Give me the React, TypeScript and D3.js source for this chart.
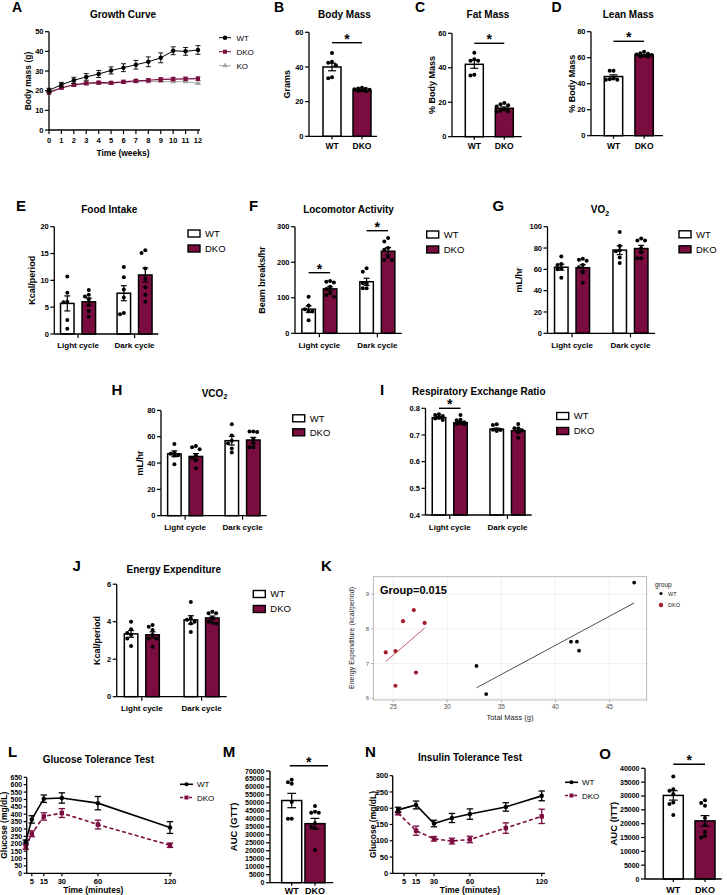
import React from "react";
import * as d3 from "d3";

const FONT = "'Liberation Sans', Arial, Helvetica, sans-serif";
const MAROON = "#7b0c3f";
const KO_GREY = "#a8a8a8";

// ---------------- DATA ----------------
const weeks = [0, 1, 2, 3, 4, 5, 6, 7, 8, 9, 10, 11, 12];
const growthWT = [20.2, 23.0, 25.3, 27.0, 28.5, 30.3, 31.7, 33.2, 34.7, 36.7, 40.3, 40.0, 40.7];
const growthWTErr = [1.0, 1.2, 1.5, 1.7, 1.8, 1.8, 2.0, 2.2, 2.5, 2.5, 2.0, 2.0, 2.2];
const growthDKO = [19.0, 21.5, 23.0, 23.8, 24.1, 24.0, 24.5, 25.0, 25.3, 25.7, 25.9, 26.0, 26.1];
const growthDKOErr = [0.6, 0.6, 0.7, 0.7, 0.7, 0.7, 0.8, 0.8, 0.8, 0.9, 0.9, 0.9, 0.9];
const growthKO = [19.5, 21.3, 22.7, 23.5, 23.8, 23.8, 24.2, 24.6, 24.6, 24.7, 24.6, 24.6, 23.7];
const growthKOErr = [0.5, 0.5, 0.5, 0.5, 0.5, 0.5, 0.5, 0.5, 0.5, 0.5, 0.5, 0.5, 0.5];

const genotypes = ["WT", "DKO"];
const cycles = ["Light cycle", "Dark cycle"];

const bodyMassMean = [40.0, 26.3];
const bodyMassSem = [2.2, 0.4];
const bodyMassWT = [48, 43, 42.5, 41, 34, 33.5];
const bodyMassDKO = [27.5, 28, 27.6, 27.2, 26.8, 26.3, 26.0, 26.5];

const fatMassMean = [42.0, 16.5];
const fatMassSem = [2.3, 0.8];
const fatMassWT = [48.7, 45, 44, 44, 36, 35.5];
const fatMassDKO = [19.5, 18.8, 18.2, 17.5, 15.8, 15, 14.6, 14.8];

const leanMassMean = [45.5, 62.0];
const leanMassSem = [1.3, 0.5];
const leanMassWT = [50, 50, 44, 43, 43, 43.5];
const leanMassDKO = [64.6, 63.5, 63, 62.5, 62, 61.5, 61, 60.8];

const foodMeanWT = [5.7, 7.6];
const foodSemWT = [1.4, 1.4];
const foodMeanDKO = [6.0, 11.0];
const foodSemDKO = [0.7, 1.3];
const foodDotsWT = [[10.7, 7.7, 6.0, 5.9, 2.6, 1.0], [12.5, 10.6, 8.3, 6.8, 3.7, 3.9]];
const foodDotsDKO = [[8.2, 7.3, 7.0, 6.5, 5.4, 4.3, 3.2], [15.6, 15.1, 12.2, 10.3, 8.7, 7.3, 6.0]];

const locoMeanWT = [68, 145];
const locoSemWT = [9, 10];
const locoMeanDKO = [125, 231];
const locoSemDKO = [6, 10];
const locoDotsWT = [[103, 78, 68, 61, 61, 37], [183, 173, 141, 127, 127, 141]];
const locoDotsDKO = [[147, 145, 143, 131, 125, 113, 103, 108], [268, 258, 240, 235, 215, 206, 206]];

const vo2MeanWT = [62, 78];
const vo2SemWT = [2.8, 4.2];
const vo2MeanDKO = [61.5, 79.5];
const vo2SemDKO = [3.0, 3.0];
const vo2DotsWT = [[72, 65, 64, 61, 60, 52], [95, 82, 78, 77, 71, 66]];
const vo2DotsDKO = [[70, 69, 68, 64, 62, 57, 47.5], [89, 87, 87, 80, 76, 70.5, 70.5]];

const vco2MeanWT = [47, 57];
const vco2SemWT = [2.2, 3.3];
const vco2MeanDKO = [45, 57.5];
const vco2SemDKO = [2.2, 2.0];
const vco2DotsWT = [[54.5, 48, 47, 46, 46, 39], [69.5, 61, 57, 55, 51, 48]];
const vco2DotsDKO = [[53, 52, 50.5, 46, 44, 42, 36], [64, 63.5, 64, 58, 55, 52, 52]];

const rerMeanWT = [0.765, 0.722];
const rerSemWT = [0.004, 0.004];
const rerMeanDKO = [0.746, 0.716];
const rerSemDKO = [0.004, 0.007];
const rerDotsWT = [[0.778, 0.775, 0.771, 0.765, 0.762, 0.756], [0.74, 0.737, 0.72, 0.719, 0.715, 0.72]];
const rerDotsDKO = [[0.775, 0.757, 0.755, 0.748, 0.744, 0.742, 0.74], [0.741, 0.725, 0.725, 0.718, 0.71, 0.69]];

const eeMeanWT = [3.35, 4.1];
const eeSemWT = [0.18, 0.22];
const eeMeanDKO = [3.3, 4.2];
const eeSemDKO = [0.16, 0.1];
const eeDotsWT = [[4.0, 3.6, 3.4, 3.3, 3.1, 2.7], [5.05, 4.2, 4.1, 4.0, 3.9, 3.45]];
const eeDotsDKO = [[3.82, 3.73, 3.56, 3.3, 3.11, 3.1, 2.67], [4.53, 4.45, 4.45, 4.2, 4.0, 3.95, 3.9]];

const kWTMass = [47.3, 32.7, 33.6, 41.45, 42.0, 42.2];
const kWTEE = [9.33, 6.93, 6.12, 7.63, 7.63, 7.37];
const kDKOMass = [26.9, 25.9, 27.9, 24.3, 25.2, 27.1, 25.2];
const kDKOEE = [8.54, 8.22, 8.17, 7.32, 7.36, 6.74, 6.36];
const kXTicks = [25, 30, 35, 40, 45];
const kYTicks = [6, 7, 8, 9];

const gttTimes = [0, 5, 15, 30, 60, 120];
const gttWT = [215, 365, 505, 510, 475, 310];
const gttWTErr = [10, 25, 25, 35, 45, 40];
const gttDKO = [178, 268, 385, 408, 330, 190];
const gttDKOErr = [15, 20, 25, 30, 30, 15];
const gttXTicks = [5, 15, 30, 60, 120];

const gttAucMean = [51500, 37000];
const gttAucSem = [4500, 3300];
const gttAucWT = [64500, 63000, 62000, 50500, 40000, 40000];
const gttAucDKO = [48000, 44500, 43900, 43800, 37200, 35100, 34100, 20500];

const ittTimes = [0, 15, 30, 45, 60, 90, 120];
const ittWT = [195, 210, 153, 170, 182, 204, 238];
const ittWTErr = [8, 12, 10, 14, 16, 13, 15];
const ittDKO = [185, 131, 106, 99, 104, 139, 175];
const ittDKOErr = [5, 14, 7, 9, 10, 16, 22];
const ittXTicks = [5, 15, 30, 60, 120];

const ittAucMean = [30200, 21000];
const ittAucSem = [1700, 1900];
const ittAucWT = [37000, 31900, 32400, 30700, 27100, 27600, 23100];
const ittAucDKO = [28500, 27500, 26500, 22000, 19500, 17000, 15500, 15000];

// ---------------- HELPERS ----------------
function swarm(vals: number[], y: (v: number) => number, r: number, maxOff: number) {
  const order = vals.map((_, i) => i).sort((a, b) => vals[b] - vals[a]);
  const res = new Array(vals.length).fill(0);
  const placed: { x: number; y: number }[] = [];
  const step = r * 1.9;
  for (const i of order) {
    const yy = y(vals[i]);
    const cands = [0];
    for (let j = 1; j < 8; j++) cands.push(-j * step, j * step);
    let chosen = 0;
    let best = -1;
    for (const c of cands) {
      if (Math.abs(c) > maxOff) continue;
      const md = placed.length ? Math.min(...placed.map((p) => Math.hypot(p.x - c, p.y - yy))) : 99;
      if (md >= 2 * r * 0.95) { chosen = c; best = 1e9; break; }
      if (md > best) { best = md; chosen = c; }
    }
    res[i] = chosen;
    placed.push({ x: chosen, y: yy });
  }
  return res;
}

function Letter({ x, y, t, size = 15 }: any) {
  return <text x={x} y={y} fontSize={size} fontWeight="bold">{t}</text>;
}
function Title({ x, y, children, size = 10 }: any) {
  return <text x={x} y={y} fontSize={size} fontWeight="bold" textAnchor="middle">{children}</text>;
}
function YLabel({ x, y, t, size = 9 }: any) {
  const xx = x + size * 0.35;
  return <text x={xx} y={y} fontSize={size} fontWeight="bold" textAnchor="middle" transform={`rotate(-90 ${xx} ${y})`}>{t}</text>;
}

function YAxis({ x, scale, ticks, fmt = (d: number) => String(d), size = 7.5, len = 4 }: any) {
  const [r0, r1] = scale.range();
  return (
    <g>
      <line x1={x} x2={x} y1={r0} y2={r1} stroke="#000" strokeWidth={1.3} />
      {ticks.map((t: number) => (
        <g key={t}>
          <line x1={x - len} x2={x} y1={scale(t)} y2={scale(t)} stroke="#000" strokeWidth={1.2} />
          <text x={x - len - 1.5} y={scale(t)} dy="0.36em" textAnchor="end" fontSize={size} fontWeight="bold">{fmt(t)}</text>
        </g>
      ))}
    </g>
  );
}

function ErrBar({ x, y1, y2, cap = 3.5, color = "#000", w = 1.2 }: any) {
  return (
    <g stroke={color} strokeWidth={w}>
      <line x1={x} x2={x} y1={y1} y2={y2} />
      <line x1={x - cap} x2={x + cap} y1={y1} y2={y1} />
      <line x1={x - cap} x2={x + cap} y1={y2} y2={y2} />
    </g>
  );
}

function Bar({ xc, w, y, mean, sem, dots, fill, r = 2 }: any) {
  const yb = y(y.domain()[0]);
  const ym = y(mean);
  const offs = swarm(dots, y, r, w / 2 - 1);
  return (
    <g>
      <rect x={xc - w / 2} y={ym} width={w} height={yb - ym} fill={fill} stroke="#000" strokeWidth={1.5} />
      <ErrBar x={xc} y1={y(mean + sem)} y2={y(mean - sem)} cap={w * 0.22} />
      {dots.map((v: number, i: number) => (
        <circle key={i} cx={xc + offs[i]} cy={y(v)} r={r} fill="#000" />
      ))}
    </g>
  );
}

function Star({ x, y }: any) {
  return <text x={x} y={y + 1} fontSize={14} fontWeight="bold" textAnchor="middle">*</text>;
}

function BarLegend({ x, y, gap = 15 }: any) {
  return (
    <g>
      {genotypes.map((g, i) => (
        <g key={g}>
          <rect x={x} y={y + i * gap - 3.5} width={12} height={7} fill={i === 0 ? "#fff" : MAROON} stroke="#000" strokeWidth={1.4} />
          <text x={x + 17} y={y + i * gap + 3.4} fontSize={9.5}>{g}</text>
        </g>
      ))}
    </g>
  );
}

// ---------- Two-bar panel (B, C, D, M, O) ----------
function TwoBarPanel(p: any) {
  const y = d3.scaleLinear().domain(p.domain).range(p.yRange);
  const x = d3.scaleBand<string>().domain(genotypes).range(p.band).paddingInner(p.pi ?? 0.4).paddingOuter(0);
  const w = x.bandwidth();
  const cx = (g: string) => (x(g) as number) + w / 2;
  const yb = p.yRange[0];
  return (
    <g>
      <Letter x={p.letter[0]} y={p.letter[1]} t={p.letterT} size={p.letterSize ?? 14} />
      {p.title && <Title x={p.title[0]} y={p.title[1]}>{p.titleT}</Title>}
      <YLabel x={p.yLabel[0]} y={(p.yRange[0] + p.yRange[1]) / 2} t={p.yLabelT} size={p.yLabelSize ?? 9} />
      {genotypes.map((g, i) => (
        <Bar key={g} xc={cx(g)} w={w} y={y} mean={p.means[i]} sem={p.sems[i]} dots={p.dots[i]} fill={i === 0 ? "#fff" : MAROON} r={p.r ?? 2} />
      ))}
      <YAxis x={p.axisX} scale={y} ticks={p.ticks} size={p.tickSize ?? 7.5} />
      <line x1={p.axisX} x2={p.axisEnd} y1={yb} y2={yb} stroke="#000" strokeWidth={1.3} />
      {genotypes.map((g) => (
        <g key={g}>
          <line x1={cx(g)} x2={cx(g)} y1={yb} y2={yb + 3} stroke="#000" strokeWidth={1.2} />
          <text x={cx(g)} y={p.catY} textAnchor="middle" fontSize={p.catSize ?? 8.5} fontWeight="bold">{g}</text>
        </g>
      ))}
      <line x1={cx("WT") + (p.sigPad?.[0] ?? 0)} x2={cx("DKO") + (p.sigPad?.[1] ?? 0)} y1={p.sigY} y2={p.sigY} stroke="#000" strokeWidth={1.4} />
      <Star x={(cx("WT") + (p.sigPad?.[0] ?? 0) + cx("DKO") + (p.sigPad?.[1] ?? 0)) / 2} y={p.sigY} />
    </g>
  );
}

// ---------- Cycle panel (E-J) ----------
function CyclePanel(p: any) {
  const y = d3.scaleLinear().domain(p.domain).range(p.yRange);
  const xg = d3.scalePoint<string>().domain(cycles).range([p.x0, p.x1]).padding(0.42);
  const xs = d3.scaleBand<string>().domain(genotypes).range([-17.5, 17.5]).paddingInner(0.372);
  const w = xs.bandwidth();
  const bx = (c: string, g: string) => (xg(c) as number) + (xs(g) as number) + w / 2;
  const yb = p.yRange[0];
  return (
    <g>
      <Letter x={p.letter[0]} y={p.letter[1]} t={p.letterT} size={15} />
      <Title x={p.title[0]} y={p.title[1]}>{p.titleT}</Title>
      {p.yLabelT && <YLabel x={p.yLabelX} y={(p.yRange[0] + p.yRange[1]) / 2} t={p.yLabelT} />}
      {cycles.map((c, ci) => (
        <g key={c}>
          <Bar xc={bx(c, "WT")} w={w} y={y} mean={p.meanWT[ci]} sem={p.semWT[ci]} dots={p.dotsWT[ci]} fill="#fff" />
          <Bar xc={bx(c, "DKO")} w={w} y={y} mean={p.meanDKO[ci]} sem={p.semDKO[ci]} dots={p.dotsDKO[ci]} fill={MAROON} />
        </g>
      ))}
      <YAxis x={p.x0} scale={y} ticks={p.ticks} fmt={p.fmt} />
      <line x1={p.x0} x2={p.x1} y1={yb} y2={yb} stroke="#000" strokeWidth={1.3} />
      {cycles.map((c) => (
        <g key={c}>
          <line x1={xg(c)} x2={xg(c)} y1={yb} y2={yb + 4} stroke="#000" strokeWidth={1.2} />
          <text x={xg(c)} y={p.catY} textAnchor="middle" fontSize={8} fontWeight="bold">{c}</text>
        </g>
      ))}
      {cycles.map((c, ci) =>
        p.sigY && p.sigY[ci] != null ? (
          <g key={"s" + c}>
            <line x1={bx(c, "WT")} x2={bx(c, "DKO")} y1={p.sigY[ci]} y2={p.sigY[ci]} stroke="#000" strokeWidth={1.4} />
            <Star x={(bx(c, "WT") + bx(c, "DKO")) / 2} y={p.sigY[ci]} />
          </g>
        ) : null
      )}
      <BarLegend x={p.legend[0]} y={p.legend[1]} gap={p.legendGap ?? 15} />
    </g>
  );
}

function symbolPath(shape: string, size: number) {
  const t = shape === "square" ? d3.symbolSquare : shape === "triangle" ? d3.symbolTriangle : shape === "diamond" ? d3.symbolDiamond : d3.symbolCircle;
  return d3.symbol().type(t).size(size)() as string;
}

// ---------- Panel A ----------
function GrowthPanel() {
  const x = d3.scaleLinear().domain([0, 12]).range([49, 198]);
  const y = d3.scaleLinear().domain([0, 50]).range([130, 31.7]);
  const series = [
    { name: "KO", vals: growthKO, err: growthKOErr, color: KO_GREY, shape: "triangle", size: 14, lw: 1 },
    { name: "DKO", vals: growthDKO, err: growthDKOErr, color: MAROON, shape: "square", size: 16, lw: 1.2 },
    { name: "WT", vals: growthWT, err: growthWTErr, color: "#000", shape: "circle", size: 16, lw: 1 },
  ];
  const legendOrder = ["WT", "DKO", "KO"];
  const line = d3.line<number>().x((_, i) => x(weeks[i])).y((v) => y(v));
  return (
    <g>
      <Letter x={12} y={12} t="A" size={14} />
      <Title x={123} y={18}>Growth Curve</Title>
      <YLabel x={28} y={81} t="Body mass (g)" size={8.5} />
      {series.map((s) => (
        <g key={s.name}>
          <path d={line(s.vals) as string} fill="none" stroke={s.color} strokeWidth={s.lw} />
          {s.vals.map((v, i) => (
            <ErrBar key={i} x={x(weeks[i])} y1={y(v + s.err[i])} y2={y(v - s.err[i])} cap={2.5} color={s.color} w={0.9} />
          ))}
          {s.vals.map((v, i) => (
            <path key={"m" + i} d={symbolPath(s.shape, s.size)} transform={`translate(${x(weeks[i])},${y(v)})`} fill={s.color} />
          ))}
        </g>
      ))}
      <YAxis x={49} scale={y} ticks={[0, 10, 20, 30, 40, 50]} size={7.5} />
      <line x1={49} x2={200} y1={130} y2={130} stroke="#000" strokeWidth={1.3} />
      {weeks.map((w) => (
        <g key={w}>
          <line x1={x(w)} x2={x(w)} y1={130} y2={134} stroke="#000" strokeWidth={1.2} />
          <text x={x(w)} y={143} textAnchor="middle" fontSize={7.5} fontWeight="bold">{w}</text>
        </g>
      ))}
      <text x={123} y={155.5} textAnchor="middle" fontSize={8.5} fontWeight="bold">Time (weeks)</text>
      {legendOrder.map((n, i) => {
        const s = series.find((d) => d.name === n)!;
        const ly = 37.7 + i * 14;
        return (
          <g key={n}>
            <line x1={219} x2={231} y1={ly} y2={ly} stroke={s.color} strokeWidth={1} />
            <path d={symbolPath(s.shape, s.size)} transform={`translate(225,${ly})`} fill={s.color} />
            <text x={236.5} y={ly + 3} fontSize={8}>{n}</text>
          </g>
        );
      })}
    </g>
  );
}

// ---------- Tolerance panels (L, N) ----------
function TolerancePanel(p: any) {
  const x = d3.scaleLinear().domain(p.xDomain).range(p.xRange);
  const y = d3.scaleLinear().domain(p.yDomain).range(p.yRange);
  const yb = p.yRange[0];
  const lineWT = d3.line<number>().x((_, i) => x(p.times[i])).y((v) => y(v));
  const series = [
    { name: "DKO", vals: p.dko, err: p.dkoErr, color: MAROON, dash: "4,2.5", shape: "square", size: 20 },
    { name: "WT", vals: p.wt, err: p.wtErr, color: "#000", dash: undefined, shape: "circle", size: 16 },
  ];
  return (
    <g>
      <Letter x={p.letter[0]} y={p.letter[1]} t={p.letterT} size={15} />
      <Title x={p.title[0]} y={p.title[1]}>{p.titleT}</Title>
      <YLabel x={p.yLabelX} y={(p.yRange[0] + p.yRange[1]) / 2} t="Glucose (mg/dL)" size={8.5} />
      {series.map((s) => (
        <g key={s.name}>
          <path d={lineWT(s.vals) as string} fill="none" stroke={s.color} strokeWidth={1.6} strokeDasharray={s.dash} />
          {s.vals.map((v: number, i: number) => (
            <ErrBar key={i} x={x(p.times[i])} y1={y(v + s.err[i])} y2={y(v - s.err[i])} cap={3.2} color={s.color} w={1.3} />
          ))}
          {s.vals.map((v: number, i: number) => (
            <path key={"m" + i} d={symbolPath(s.shape, s.size)} transform={`translate(${x(p.times[i])},${y(v)})`} fill={s.color} />
          ))}
        </g>
      ))}
      <YAxis x={p.axisX} scale={y} ticks={p.yTicks} size={p.tickSize ?? 7.5} len={3} />
      <line x1={p.axisX} x2={p.axisEnd} y1={yb} y2={yb} stroke="#000" strokeWidth={1.3} />
      {p.xTicks.map((t: number) => (
        <g key={t}>
          <line x1={x(t)} x2={x(t)} y1={yb} y2={yb + 3} stroke="#000" strokeWidth={1.2} />
          <text x={x(t)} y={yb + 11} textAnchor="middle" fontSize={7.5} fontWeight="bold">{t}</text>
        </g>
      ))}
      <text x={p.xLabelX} y={yb + 19.5} textAnchor="middle" fontSize={8.5} fontWeight="bold">Time (minutes)</text>
      {[series[1], series[0]].map((s, i) => {
        const ly = p.legend[1] + i * 13.2;
        return (
          <g key={s.name}>
            <line x1={p.legend[0]} x2={p.legend[0] + 13} y1={ly} y2={ly} stroke={s.color} strokeWidth={1.6} strokeDasharray={s.dash ? "3,1.5" : undefined} />
            <path d={symbolPath(s.shape, s.size * 0.8)} transform={`translate(${p.legend[0] + 6.5},${ly})`} fill={s.color} />
            <text x={p.legend[0] + 17} y={ly + 3} fontSize={8}>{s.name}</text>
          </g>
        );
      })}
    </g>
  );
}

function linFit(xs: number[], ys: number[]) {
  const mx = d3.mean(xs) as number;
  const my = d3.mean(ys) as number;
  const sxy = d3.sum(xs, (v, i) => (v - mx) * (ys[i] - my));
  const sxx = d3.sum(xs, (v) => (v - mx) * (v - mx));
  const b = sxy / sxx;
  return (v: number) => my + b * (v - mx);
}

// ---------- Panel K ----------
function ScatterPanel() {
  const x = d3.scaleLinear().domain([23.15, 48.46]).range([373.3, 646.7]);
  const y = d3.scaleLinear().domain([5.95, 9.5]).range([700, 576.7]);
  const fWT = linFit(kWTMass, kWTEE);
  const fDKO = linFit(kDKOMass, kDKOEE);
  const wtExt = d3.extent(kWTMass) as [number, number];
  const dkoExt = d3.extent(kDKOMass) as [number, number];
  const RED = "#a51c30";
  return (
    <g>
      <Letter x={321} y={571} t="K" size={15} />
      <rect x={373.3} y={576.7} width={273.4} height={123.3} fill="#fff" />
      {kXTicks.map((t) => (
        <line key={t} x1={x(t)} x2={x(t)} y1={576.7} y2={700} stroke="#ebebeb" strokeWidth={0.7} />
      ))}
      {kYTicks.map((t) => (
        <line key={t} x1={373.3} x2={646.7} y1={y(t)} y2={y(t)} stroke="#ebebeb" strokeWidth={0.7} />
      ))}
      <rect x={373.3} y={576.7} width={273.4} height={123.3} fill="none" stroke="#aaa" strokeWidth={0.8} />
      {kXTicks.map((t) => (
        <g key={t}>
          <line x1={x(t)} x2={x(t)} y1={700} y2={702.5} stroke="#888" strokeWidth={0.6} />
          <text x={x(t)} y={708.5} textAnchor="middle" fontSize={6.5} fill="#555">{t}</text>
        </g>
      ))}
      {kYTicks.map((t) => (
        <g key={t}>
          <line x1={370.8} x2={373.3} y1={y(t)} y2={y(t)} stroke="#888" strokeWidth={0.6} />
          <text x={369} y={y(t)} dy="0.35em" textAnchor="end" fontSize={6} fill="#555">{t}</text>
        </g>
      ))}
      <text x={510} y={719.5} textAnchor="middle" fontSize={7.5} fill="#222">Total Mass (g)</text>
      <text x={354} y={638} textAnchor="middle" fontSize={7} fill="#222" transform="rotate(-90 354 638)">Energy Expenditure (kcal/period)</text>
      <line x1={x(wtExt[0])} x2={x(wtExt[1])} y1={y(fWT(wtExt[0]))} y2={y(fWT(wtExt[1]))} stroke="#222" strokeWidth={0.8} />
      <line x1={x(dkoExt[0])} x2={x(dkoExt[1])} y1={y(fDKO(dkoExt[0]))} y2={y(fDKO(dkoExt[1]))} stroke="#b5303f" strokeWidth={0.8} />
      {kWTMass.map((m, i) => (
        <circle key={"w" + i} cx={x(m)} cy={y(kWTEE[i])} r={1.9} fill="#000" />
      ))}
      {kDKOMass.map((m, i) => (
        <circle key={"d" + i} cx={x(m)} cy={y(kDKOEE[i])} r={2.1} fill={RED} />
      ))}
      <text x={380} y={593.5} fontSize={11} fontWeight="bold">Group=0.015</text>
      <text x={655} y={587} fontSize={6.5} fill="#222">group</text>
      <circle cx={661} cy={593.5} r={1.6} fill="#000" />
      <text x={668} y={595.8} fontSize={5.5} fill="#222">WT</text>
      <circle cx={661} cy={605} r={2.2} fill={RED} />
      <text x={668} y={607.3} fontSize={5.5} fill="#222">DKO</text>
    </g>
  );
}

export default function App() {
  const big5k = d3.range(0, 70001, 5000);
  const o5k = d3.range(0, 40001, 5000);
  return (
    <svg width={727} height={895} style={{ position: "absolute", left: 0, top: 0, background: "#fff" }} fontFamily={FONT}>
      <rect width={727} height={895} fill="#fff" />
      <GrowthPanel />
      <TwoBarPanel letterT="B" letter={[274, 12]} titleT="Body Mass" title={[344.5, 17.5]} yLabelT="Grams" yLabel={[287.3]}
        axisX={309} band={[323, 371]} axisEnd={377} domain={[0, 60]} yRange={[136.3, 32.3]} ticks={[0, 20, 40, 60]}
        means={bodyMassMean} sems={bodyMassSem} dots={[bodyMassWT, bodyMassDKO]} sigY={42.7} catY={148.5} />
      <TwoBarPanel letterT="C" letter={[415, 12]} titleT="Fat Mass" title={[488, 17.5]} yLabelT="% Body Mass" yLabel={[431.7]}
        axisX={452} band={[465.3, 513.3]} axisEnd={521.7} domain={[0, 60]} yRange={[136.7, 33.3]} ticks={[0, 20, 40, 60]}
        means={fatMassMean} sems={fatMassSem} dots={[fatMassWT, fatMassDKO]} sigY={43.3} catY={149} />
      <TwoBarPanel letterT="D" letter={[551.5, 12]} titleT="Lean Mass" title={[628.3, 17.5]} yLabelT="% Body Mass" yLabel={[571.7]}
        axisX={591} band={[604.3, 653.3]} axisEnd={663} domain={[0, 80]} yRange={[135.7, 31.7]} ticks={[0, 20, 40, 60, 80]}
        means={leanMassMean} sems={leanMassSem} dots={[leanMassWT, leanMassDKO]} sigY={41.3} catY={148.5} />

      <CyclePanel letterT="E" letter={[16, 211]} titleT="Food Intake" title={[109.3, 213.3]} yLabelT="Kcal/period" yLabelX={32.3}
        x0={54.3} x1={158.3} domain={[0, 20]} yRange={[334, 226.7]} ticks={[0, 5, 10, 15, 20]}
        meanWT={foodMeanWT} semWT={foodSemWT} meanDKO={foodMeanDKO} semDKO={foodSemDKO} dotsWT={foodDotsWT} dotsDKO={foodDotsDKO}
        catY={348} legend={[188, 233.5]} />
      <CyclePanel letterT="F" letter={[249, 211]} titleT="Locomotor Activity" title={[348.5, 213.3]} yLabelT="Beam breaks/hr" yLabelX={261.7}
        x0={295} x1={401.7} domain={[0, 300]} yRange={[333.3, 226.7]} ticks={[0, 100, 200, 300]}
        meanWT={locoMeanWT} semWT={locoSemWT} meanDKO={locoMeanDKO} semDKO={locoSemDKO} dotsWT={locoDotsWT} dotsDKO={locoDotsDKO}
        catY={348} legend={[426.7, 234.5]} sigY={[272.7, 230.7]} />
      <CyclePanel letterT="G" letter={[492.5, 211]} titleT={<tspan>VO<tspan dy={2.5} fontSize={7}>2</tspan></tspan>} title={[600, 213.3]} yLabelT="mL/hr" yLabelX={519.3}
        x0={547.5} x1={655} domain={[0, 100]} yRange={[333.3, 226.7]} ticks={[0, 20, 40, 60, 80, 100]}
        meanWT={vo2MeanWT} semWT={vo2SemWT} meanDKO={vo2MeanDKO} semDKO={vo2SemDKO} dotsWT={vo2DotsWT} dotsDKO={vo2DotsDKO}
        catY={348} legend={[679, 234.3]} />
      <CyclePanel letterT="H" letter={[111.5, 395]} titleT={<tspan>VCO<tspan dy={2.5} fontSize={7}>2</tspan></tspan>} title={[214.5, 396.7]} yLabelT="mL/hr" yLabelX={140}
        x0={161} x1={266.7} domain={[0, 80]} yRange={[515.7, 410.4]} ticks={[0, 20, 40, 60, 80]}
        meanWT={vco2MeanWT} semWT={vco2SemWT} meanDKO={vco2MeanDKO} semDKO={vco2SemDKO} dotsWT={vco2DotsWT} dotsDKO={vco2DotsDKO}
        catY={529.5} legend={[292.7, 418.3]} legendGap={14} />
      <CyclePanel letterT="I" letter={[380, 395]} titleT="Respiratory Exchange Ratio" title={[478.8, 395]}
        x0={425.5} x1={531.7} domain={[0.4, 0.8]} yRange={[515, 408.3]} ticks={[0.4, 0.5, 0.6, 0.7, 0.8]} fmt={d3.format(".1f")}
        meanWT={rerMeanWT} semWT={rerSemWT} meanDKO={rerMeanDKO} semDKO={rerSemDKO} dotsWT={rerDotsWT} dotsDKO={rerDotsDKO}
        catY={529.5} legend={[556.7, 416]} sigY={[408.3, null]} />
      <CyclePanel letterT="J" letter={[72.5, 570.7]} titleT="Energy Expenditure" title={[173.8, 572.7]} yLabelT="Kcal/period" yLabelX={96.7}
        x0={116.7} x1={226.7} domain={[0, 6]} yRange={[696.7, 584.2]} ticks={[0, 2, 4, 6]}
        meanWT={eeMeanWT} semWT={eeSemWT} meanDKO={eeMeanDKO} semDKO={eeSemDKO} dotsWT={eeDotsWT} dotsDKO={eeDotsDKO}
        catY={711} legend={[253.3, 594]} />
      <ScatterPanel />

      <TolerancePanel letterT="L" letter={[8, 757]} titleT="Glucose Tolerance Test" title={[98.3, 762.7]} yLabelX={4}
        xDomain={[0, 120]} xRange={[25.8, 170]} yDomain={[0, 650]} yRange={[873.3, 777.3]} axisX={26.7} axisEnd={172}
        yTicks={d3.range(0, 651, 50)} xTicks={gttXTicks} times={gttTimes} wt={gttWT} wtErr={gttWTErr} dko={gttDKO} dkoErr={gttDKOErr}
        xLabelX={93.3} legend={[180, 784.3]} tickSize={7} />
      <TwoBarPanel letterT="M" letter={[222.7, 757]} letterSize={15} yLabelT="AUC (GTT)" yLabel={[233.3]} yLabelSize={9.5}
        axisX={270} band={[281.7, 325]} pi={0.14} axisEnd={333.3} domain={[0, 70000]} yRange={[882.7, 771]} ticks={big5k}
        means={gttAucMean} sems={gttAucSem} dots={[gttAucWT, gttAucDKO]} sigY={765.7} sigPad={[-2, 13]} catY={893.5} tickSize={7} catSize={9} />
      <TolerancePanel letterT="N" letter={[365, 757]} titleT="Insulin Tolerance Test" title={[470, 760.7]} yLabelX={373.3}
        xDomain={[-4.5, 120]} xRange={[392.7, 541.7]} yDomain={[0, 300]} yRange={[873.3, 775.7]} axisX={392.7} axisEnd={545}
        yTicks={d3.range(0, 301, 50)} xTicks={ittXTicks} times={ittTimes} wt={ittWT} wtErr={ittWTErr} dko={ittDKO} dkoErr={ittDKOErr}
        xLabelX={470} legend={[565, 782.3]} />
      <TwoBarPanel letterT="O" letter={[599.3, 759]} letterSize={15} yLabelT="AUC (ITT)" yLabel={[613.3]} yLabelSize={9.5}
        axisX={645} band={[663.3, 715]} pi={0.37} axisEnd={721.7} domain={[0, 40000]} yRange={[879, 768.3]} ticks={o5k}
        means={ittAucMean} sems={ittAucSem} dots={[ittAucWT, ittAucDKO]} sigY={764.3} catY={893} tickSize={7} catSize={9} />
    </svg>
  );
}
